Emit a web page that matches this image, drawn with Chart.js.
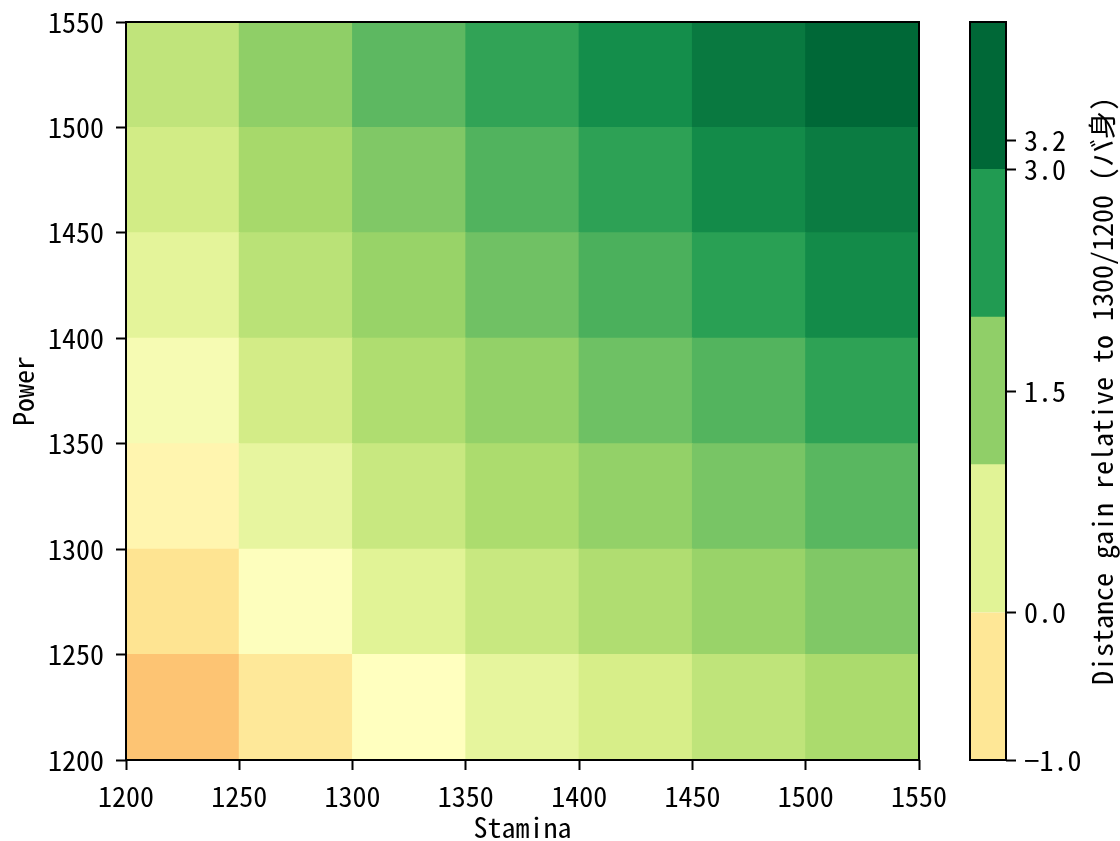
<!DOCTYPE html>
<html>
<head>
<meta charset="utf-8">
<script src="https://cdn.jsdelivr.net/npm/chart.js@4.4.1/dist/chart.umd.min.js"></script>
<style>
  html, body { margin: 0; padding: 0; background: #fff; }
  #wrap { position: relative; width: 1120px; height: 841px; }
  #heat { position: absolute; left: 0; top: 0; }
  #bar { position: absolute; left: 960px; top: 0; }
</style>
</head>
<body>
<div id="wrap">
  <canvas id="heat" width="960" height="841"></canvas>
  <canvas id="bar" width="160" height="841"></canvas>
</div>
<script>
// Grid: lower-left corner of each cell (Stamina across, Power up), 50 per step
const stamina = [1200, 1250, 1300, 1350, 1400, 1450, 1500];
const power = [1200, 1250, 1300, 1350, 1400, 1450, 1500];
const cellSize = 50;
const axisTicks = [1200, 1250, 1300, 1350, 1400, 1450, 1500, 1550];

// Distance gain (バ身) relative to Stamina 1300 / Power 1200, one row per Power level
const gain1200 = [-1.00, -0.47, 0.00, 0.42, 0.67, 0.97, 1.22];
const gain1250 = [-0.55, 0.03, 0.50, 0.85, 1.15, 1.41, 1.66];
const gain1300 = [-0.20, 0.40, 0.85, 1.20, 1.47, 1.74, 2.03];
const gain1350 = [0.15, 0.72, 1.17, 1.47, 1.84, 2.08, 2.39];
const gain1400 = [0.45, 1.03, 1.42, 1.82, 2.15, 2.43, 2.73];
const gain1450 = [0.73, 1.27, 1.66, 2.10, 2.40, 2.73, 2.93];
const gain1500 = [0.95, 1.51, 2.00, 2.37, 2.70, 2.98, 3.20];
const gainRows = [gain1200, gain1250, gain1300, gain1350, gain1400, gain1450, gain1500];

// Colour bar: band edges and labelled ticks
const cbBounds = [-1, 0, 1, 2, 3, 4];
const cbTicks = [-1.0, 0.0, 1.5, 3.0, 3.2];
const colorLimit = 3.2;   // symmetric colour range ±3.2

// RdYlGn colour map stops
const rdylgn = ['#a50026', '#d73027', '#f46d43', '#fdae61', '#fee08b', '#ffffbf',
                '#d9ef8b', '#a6d96a', '#66bd63', '#1a9850', '#006837'];

function hexToRgb(h) {
  const n = parseInt(h.slice(1), 16);
  return [(n >> 16) & 255, (n >> 8) & 255, n & 255];
}
const stops = rdylgn.map(hexToRgb);

function cmap(t) {
  t = Math.min(1, Math.max(0, t));
  const pos = t * (stops.length - 1);
  const i = Math.min(stops.length - 2, Math.floor(pos));
  const f = pos - i;
  const a = stops[i], b = stops[i + 1];
  const c = a.map((v, k) => Math.round(v + (b[k] - v) * f));
  return `rgb(${c[0]},${c[1]},${c[2]})`;
}
function colorFor(v) {
  return cmap((v + colorLimit) / (2 * colorLimit));
}

const fontFamily = "'Noto Sans Mono CJK JP', 'Noto Sans CJK JP', sans-serif";
const fontSize = 28;
Chart.defaults.font.family = fontFamily;
Chart.defaults.font.size = fontSize;
Chart.defaults.color = '#000';

// Black outline round the plotting area
const frame = {
  id: 'frame',
  afterDatasetsDraw(chart) {
    const { ctx, chartArea: a } = chart;
    ctx.save();
    ctx.strokeStyle = '#000';
    ctx.lineWidth = 2;
    ctx.strokeRect(a.left, a.top, a.right - a.left, a.bottom - a.top);
    ctx.restore();
  }
};

// Upward-reading label to the right of the colour bar ticks
const sideTitle = {
  id: 'sideTitle',
  afterDraw(chart, args, opts) {
    const { ctx, chartArea: a } = chart;
    ctx.save();
    ctx.font = `${fontSize}px ${fontFamily}`;
    ctx.fillStyle = '#000';
    ctx.translate(opts.x, (a.top + a.bottom) / 2);
    ctx.rotate(-Math.PI / 2);
    ctx.textAlign = 'center';
    ctx.textBaseline = 'middle';
    ctx.fillText(opts.text, 0, 0);
    ctx.restore();
  }
};

const tickGrid = {
  display: true,
  drawOnChartArea: false,
  drawTicks: true,
  tickLength: 10,
  tickWidth: 2,
  tickColor: '#000',
  offset: false
};

new Chart(document.getElementById('heat'), {
  type: 'bar',
  data: {
    datasets: power.map((p, r) => ({
      label: String(p),
      data: stamina.map(s => ({ x: s + cellSize / 2, y: [p, p + cellSize] })),
      backgroundColor: gainRows[r].map(colorFor),
      borderWidth: 0,
      grouped: false,
      barPercentage: 1,
      categoryPercentage: 1,
      inflateAmount: 0.5
    }))
  },
  options: {
    responsive: false,
    animation: false,
    devicePixelRatio: 1,
    layout: { padding: { left: 0, right: 41, top: 22, bottom: 0 } },
    plugins: { legend: { display: false }, tooltip: { enabled: false } },
    scales: {
      x: {
        type: 'linear',
        min: 1200, max: 1550,
        offset: false,
        grid: tickGrid,
        border: { display: false },
        afterBuildTicks: s => { s.ticks = axisTicks.map(v => ({ value: v })); },
        afterFit: s => { s.height = 81; },
        ticks: { autoSkip: false, maxRotation: 0, padding: 10, callback: v => String(v) },
        title: { display: true, text: 'Stamina', padding: 0, font: { lineHeight: 1 } }
      },
      y: {
        type: 'linear',
        min: 1200, max: 1550,
        grid: tickGrid,
        border: { display: false },
        afterBuildTicks: s => { s.ticks = axisTicks.map(v => ({ value: v })); },
        afterFit: s => { s.width = 126; },
        ticks: { autoSkip: false, padding: 12, font: { lineHeight: 0.7 }, callback: v => String(v) },
        title: { display: true, text: 'Power', padding: { top: 9, bottom: 0 }, font: { lineHeight: 1 } }
      }
    }
  },
  plugins: [frame]
});

new Chart(document.getElementById('bar'), {
  type: 'bar',
  data: {
    labels: [''],
    datasets: cbBounds.slice(0, -1).map((lo, i) => ({
      label: `${lo}–${cbBounds[i + 1]}`,
      data: [[lo, cbBounds[i + 1]]],
      backgroundColor: colorFor((lo + cbBounds[i + 1]) / 2),
      borderWidth: 0,
      grouped: false,
      barPercentage: 1,
      categoryPercentage: 1,
      inflateAmount: 0.5
    }))
  },
  options: {
    responsive: false,
    animation: false,
    devicePixelRatio: 1,
    layout: { padding: { left: 10, right: 0, top: 22, bottom: 81 } },
    plugins: {
      legend: { display: false },
      tooltip: { enabled: false },
      sideTitle: { x: 142, text: 'Distance gain relative to 1300/1200 (バ身)' }
    },
    scales: {
      x: { display: false },
      y: {
        type: 'linear',
        position: 'right',
        min: -1, max: 4,
        grid: tickGrid,
        border: { display: false },
        afterBuildTicks: s => { s.ticks = cbTicks.map(v => ({ value: v })); },
        afterFit: s => { s.width = 114; },
        ticks: {
          autoSkip: false, padding: 8, font: { lineHeight: 0.7 },
          callback: v => (v < 0 ? '\u2212' : '') + Math.abs(v).toFixed(1)
        }
      }
    }
  },
  plugins: [frame, sideTitle]
});
</script>
</body>
</html>
